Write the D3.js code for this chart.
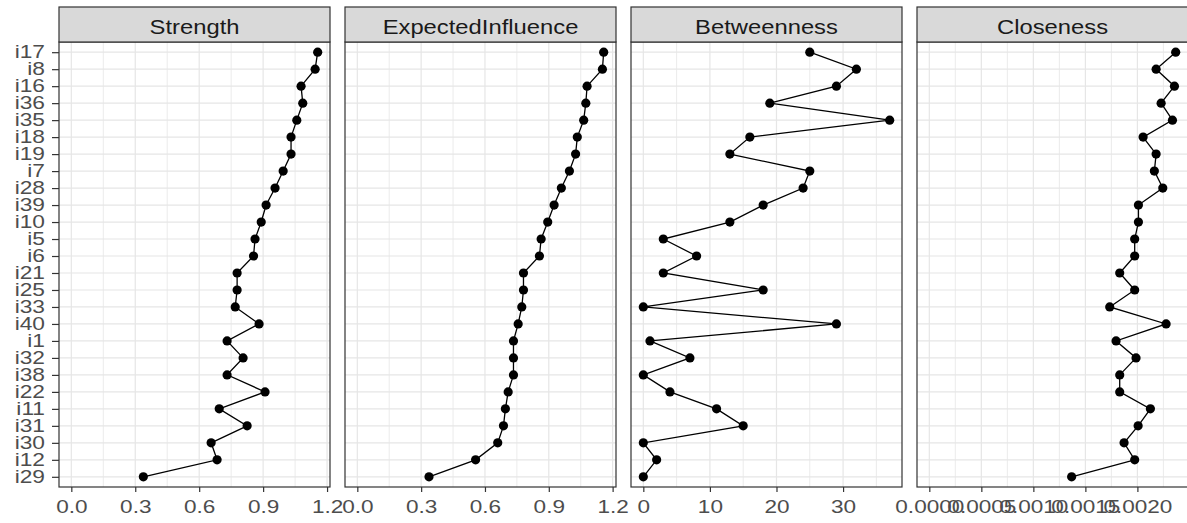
<!DOCTYPE html>
<html>
<head>
<meta charset="utf-8">
<script src="https://cdn.jsdelivr.net/npm/d3@7"></script>
<style>
body { margin: 0; background: #fff; }
svg { display: block; font-family: "Liberation Sans", Arial, sans-serif; }
</style>
</head>
<body>
<svg width="1187" height="523"></svg>
<script>
let nodes = ["i17", "i8", "i16", "i36", "i35", "i18", "i19", "i7", "i28", "i39", "i10", "i5", "i6",
	"i21", "i25", "i33", "i40", "i1", "i32", "i38", "i22", "i11", "i31", "i30", "i12", "i29"];

let strength = [1.156, 1.144, 1.078, 1.086, 1.058, 1.031, 1.031, 0.994, 0.956, 0.914, 0.891, 0.862, 0.855,
	0.778, 0.778, 0.769, 0.881, 0.731, 0.806, 0.731, 0.909, 0.694, 0.825, 0.656, 0.684, 0.338];
let expectedInfluence = [1.158, 1.152, 1.080, 1.074, 1.064, 1.034, 1.026, 0.997, 0.959, 0.925, 0.895, 0.864, 0.856,
	0.781, 0.781, 0.773, 0.756, 0.734, 0.734, 0.734, 0.709, 0.696, 0.687, 0.660, 0.556, 0.337];
let betweenness = [25, 32, 29, 19, 37, 16, 13, 25, 24, 18, 13, 3, 8,
	3, 18, 0, 29, 1, 7, 0, 4, 11, 15, 0, 2, 0];
let closeness = [0.002368, 0.002180, 0.002356, 0.002228, 0.002337, 0.002055, 0.002180, 0.002163, 0.002244, 0.002010, 0.002010, 0.001974, 0.001974,
	0.001830, 0.001974, 0.001734, 0.002276, 0.001795, 0.001987, 0.001830, 0.001830, 0.002125, 0.002007, 0.001872, 0.001974, 0.001368];

let measures = ["Strength", "ExpectedInfluence", "Betweenness", "Closeness"];
let series = [strength, expectedInfluence, betweenness, closeness];
let majorTicks = [
	[0, 0.3, 0.6, 0.9, 1.2],
	[0, 0.3, 0.6, 0.9, 1.2],
	[0, 10, 20, 30],
	[0, 0.0005, 0.001, 0.0015, 0.002]
];
let minorStep = [0.15, 0.15, 5, 0.00025];
let tickFormats = [".1f", ".1f", "d", ".4f"];

let svg = d3.select("svg");
let margin = {top: 7, left: 59};
let stripH = 35, panelW = 271, panelGap = 15, panelBottom = 487;
let panelTop = margin.top + stripH;

let y = d3.scalePoint()
	.domain(nodes)
	.range([panelTop, panelBottom])
	.padding(0.6);

// the source image is stretched sideways, so text gets a horizontal scale
let ySx = 1.3, xSx = 1.22;

measures.forEach((m, i) => {
	let x0 = margin.left + i * (panelW + panelGap);
	let vals = series[i];
	let maxV = d3.max(vals);
	let x = d3.scaleLinear()
		.domain([-0.05 * maxV, 1.05 * maxV])
		.range([x0, x0 + panelW]);

	let g = svg.append("g");

	g.append("rect")
		.attr("x", x0).attr("y", panelTop)
		.attr("width", panelW).attr("height", panelBottom - panelTop)
		.attr("fill", "#fff");

	// grid
	let minor = d3.range(0, 1.05 * maxV, minorStep[i]);
	g.append("g").selectAll("line").data(minor).enter().append("line")
		.attr("x1", d => x(d)).attr("x2", d => x(d))
		.attr("y1", panelTop).attr("y2", panelBottom)
		.attr("stroke", "#e6e6e6")
		.attr("stroke-width", d => majorTicks[i].some(t => Math.abs(t - d) < minorStep[i] / 10) ? 1.2 : 0.8);

	g.append("g").selectAll("line").data(nodes).enter().append("line")
		.attr("x1", x0).attr("x2", x0 + panelW)
		.attr("y1", d => y(d)).attr("y2", d => y(d))
		.attr("stroke", "#e6e6e6")
		.attr("stroke-width", 1.2);

	// line + points
	let pts = nodes.map((n, k) => ({node: n, value: vals[k]}));
	g.append("path")
		.datum(pts)
		.attr("fill", "none")
		.attr("stroke", "#000")
		.attr("stroke-width", 1.3)
		.attr("d", d3.line().x(d => x(d.value)).y(d => y(d.node)));

	g.append("g").selectAll("circle").data(pts).enter().append("circle")
		.attr("cx", d => x(d.value))
		.attr("cy", d => y(d.node))
		.attr("r", 4.6)
		.attr("fill", "#000");

	// border
	g.append("rect")
		.attr("x", x0).attr("y", panelTop)
		.attr("width", panelW).attr("height", panelBottom - panelTop)
		.attr("fill", "none")
		.attr("stroke", "#333")
		.attr("stroke-width", 1.2);

	// strip
	g.append("rect")
		.attr("x", x0).attr("y", margin.top)
		.attr("width", panelW).attr("height", stripH)
		.attr("fill", "#d9d9d9")
		.attr("stroke", "#333")
		.attr("stroke-width", 1.2);
	g.append("text")
		.attr("transform", `translate(${x0 + panelW / 2},${margin.top + 27}) scale(${xSx},1)`)
		.attr("text-anchor", "middle")
		.attr("font-size", 19.5)
		.attr("fill", "#1a1a1a")
		.text(m);

	// bottom axis
	let xAxis = svg.append("g")
		.attr("transform", `translate(0,${panelBottom})`)
		.call(d3.axisBottom(x)
			.tickValues(majorTicks[i])
			.tickFormat(d3.format(tickFormats[i]))
			.tickSize(5)
			.tickSizeOuter(0));
	xAxis.select(".domain").remove();
	xAxis.selectAll(".tick line").attr("stroke", "#333").attr("stroke-width", 1.2);
	xAxis.selectAll(".tick text")
		.attr("y", 13)
		.attr("dy", "0.71em")
		.attr("transform", `scale(${xSx},1)`)
		.attr("font-size", 18.5)
		.attr("fill", "#4d4d4d");
});

// left axis
let yAxis = svg.append("g")
	.attr("transform", `translate(${margin.left},0)`)
	.call(d3.axisLeft(y).tickSize(7).tickSizeOuter(0));
yAxis.select(".domain").remove();
yAxis.selectAll(".tick line").attr("stroke", "#333").attr("stroke-width", 1.2);
yAxis.selectAll(".tick text")
	.attr("x", -14 / ySx)
	.attr("transform", `scale(${ySx},1)`)
	.attr("font-size", 17.5)
	.attr("fill", "#4d4d4d");
</script>
</body>
</html>
